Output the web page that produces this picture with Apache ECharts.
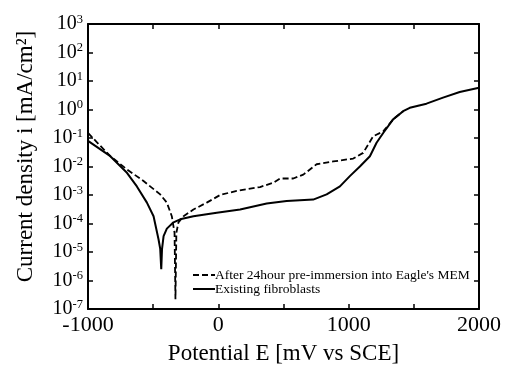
<!DOCTYPE html>
<html>
<head>
<meta charset="utf-8">
<script src="https://cdn.jsdelivr.net/npm/echarts@6/dist/echarts.min.js"></script>
<style>
  html, body { margin: 0; padding: 0; background: #fff; }
  #chart { width: 507px; height: 365px; }
</style>
</head>
<body>
<div id="chart"></div>
<script>
// potential (mV vs SCE) and current density (mA/cm2)
const fibroX = [-1000, -829, -701, -625, -548, -497, -459, -446, -438, -432, -420, -395, -344, -293, -191, -12, 167, 371, 524, 728, 831, 933, 1009, 1086, 1163, 1214, 1265, 1341, 1418, 1469, 1597, 1724, 1852, 2000];
const fibroY = [7.9e-2, 2.3e-2, 6.0e-3, 2.0e-3, 5.4e-4, 1.8e-4, 2.8e-5, 1.3e-5, 2.5e-6, 1.3e-5, 3.6e-5, 6.6e-5, 1.1e-4, 1.4e-4, 1.8e-4, 2.4e-4, 3.1e-4, 5.0e-4, 6.2e-4, 6.9e-4, 1.05e-3, 2.0e-3, 4.6e-3, 1.0e-2, 2.3e-2, 6.8e-2, 0.15, 0.45, 0.87, 1.15, 1.6, 2.6, 4.1, 5.8];

const memX = [-1000, -829, -701, -574, -446, -395, -357, -336, -329, -322, -306, -267, -191, -89, 14, 141, 320, 422, 473, 575, 652, 754, 882, 1035, 1111, 1188, 1265, 1341, 1418];
const memY = [0.15, 2.3e-2, 7.9e-3, 3.1e-3, 1.05e-3, 5.4e-4, 1.8e-4, 4.7e-5, 2.2e-7, 4.7e-5, 1.1e-4, 1.8e-4, 3.1e-4, 5.4e-4, 1.0e-3, 1.4e-3, 1.9e-3, 2.7e-3, 3.8e-3, 3.8e-3, 5.2e-3, 1.2e-2, 1.5e-2, 1.9e-2, 3.0e-2, 0.115, 0.17, 0.45, 0.87];

const seriesNames = ["After 24hour pre-immersion into Eagle's MEM", "Existing fibroblasts"];

const font = "'Liberation Serif', 'Times New Roman', serif";

function pairs(xs, ys) {
	return xs.map((x, i) => [x, ys[i]]);
}

var chart = echarts.init(document.getElementById("chart"), null, { renderer: "canvas" });

const xCommon = {
	type: "value",
	min: -1000,
	max: 2000,
	interval: 500,
	splitLine: { show: false },
	axisLine: { onZero: false, lineStyle: { color: "#000", width: 2 } },
	axisTick: { inside: true, length: 5, lineStyle: { color: "#000", width: 1.5 } },
};
const yCommon = {
	type: "log",
	logBase: 10,
	min: 1e-7,
	max: 1e3,
	interval: 1,
	splitLine: { show: false },
	minorTick: { show: false },
	axisLine: { onZero: false, lineStyle: { color: "#000", width: 2 } },
	axisTick: { inside: true, length: 5, lineStyle: { color: "#000", width: 1.5 } },
};

var options = {
	animation: false,
	backgroundColor: "#fff",
	grid: { left: 88, right: 28, top: 24, bottom: 56, outerBoundsMode: "none" },
	legend: {
		orient: "vertical",
		left: 192,
		top: 268,
		itemWidth: 22,
		itemHeight: 10,
		itemGap: 0,
		padding: 0,
		data: seriesNames,
		itemStyle: { opacity: 0 },
		textStyle: { fontFamily: font, fontSize: 13.5, lineHeight: 14, color: "#000", padding: [0, 0, 0, -5] },
	},
	xAxis: [
		Object.assign({}, xCommon, {
			position: "bottom",
			name: "Potential E [mV vs SCE]",
			nameLocation: "middle",
			nameGap: 33,
			nameTextStyle: { fontFamily: font, fontSize: 23, color: "#000" },
			axisLabel: {
				fontFamily: font,
				fontSize: 22,
				color: "#000",
				margin: 5,
				formatter: (v) => (v % 1000 === 0 ? String(v) : ""),
			},
		}),
		Object.assign({}, xCommon, { position: "top", axisLabel: { show: false } }),
	],
	yAxis: [
		Object.assign({}, yCommon, {
			position: "left",
			name: "Current density i [mA/cm\u00B2]",
			nameLocation: "middle",
			nameGap: 51,
			nameTextStyle: { fontFamily: font, fontSize: 23, color: "#000", padding: [0, 0, 0, 20] },
			axisLabel: {
				margin: 5,
				formatter: (v) => "{b|10}{s|" + Math.round(Math.log10(v)) + "}",
				rich: {
					b: { fontFamily: font, fontSize: 20, color: "#000" },
					s: { fontFamily: font, fontSize: 12.5, color: "#000", padding: [0, 0, 9, 0] },
				},
			},
		}),
		Object.assign({}, yCommon, { position: "right", axisLabel: { show: false } }),
	],
	series: [
		{
			name: seriesNames[0],
			type: "line",
			data: pairs(memX, memY),
			showSymbol: false,
			symbol: "none",
			lineStyle: { color: "#000", width: 1.8, type: [6, 3] },
			itemStyle: { color: "#000" },
		},
		{
			name: seriesNames[1],
			type: "line",
			data: pairs(fibroX, fibroY),
			showSymbol: false,
			symbol: "none",
			lineStyle: { color: "#000", width: 2 },
			itemStyle: { color: "#000" },
		},
	],
};

chart.setOption(options);
</script>
</body>
</html>
